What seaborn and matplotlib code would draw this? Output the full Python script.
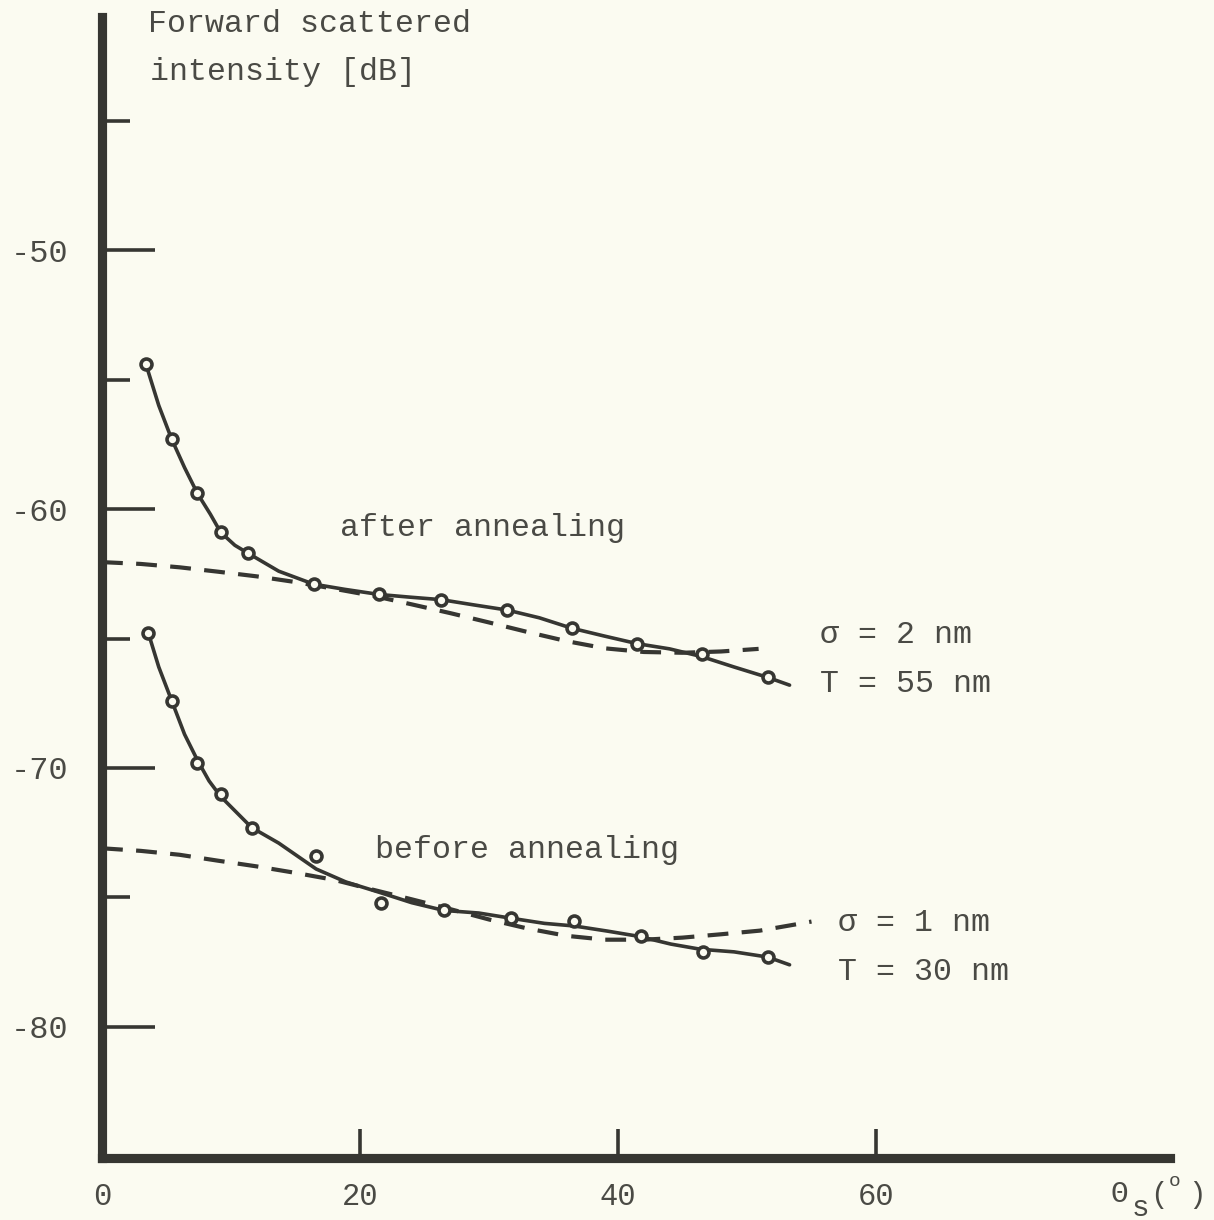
import numpy as np
import pandas as pd
import matplotlib
matplotlib.use("Agg")
import matplotlib.pyplot as plt
import seaborn as sns

# ---------------- data ----------------
after_theta = [3.4, 5.4, 7.4, 9.2, 11.3, 16.4, 21.5, 26.3, 31.4, 36.4, 41.5, 46.5, 51.6]
after_db = [-54.4, -57.3, -59.4, -60.9, -61.7, -62.9, -63.3, -63.5, -63.9, -64.6, -65.2, -65.6, -66.5]

before_theta = [3.6, 5.4, 7.4, 9.2, 11.6, 16.6, 21.6, 26.5, 31.7, 36.6, 41.8, 46.6, 51.6]
before_db = [-64.8, -67.4, -69.8, -71.0, -72.3, -73.4, -75.2, -75.5, -75.8, -75.9, -76.5, -77.1, -77.3]

after_fit_theta = [3.4, 4.4, 5.4, 6.4, 7.4, 8.4, 9.2, 10.3, 11.3, 13.7, 16.4, 18.8, 21.5,
                   23.8, 26.3, 28.8, 31.4, 33.9, 36.4, 38.9, 41.5, 44.0, 46.5, 49.0, 51.6, 53.3]
after_fit_db = [-54.4, -56.0, -57.3, -58.4, -59.4, -60.2, -60.9, -61.4, -61.7, -62.4, -62.9, -63.1, -63.3,
                -63.4, -63.5, -63.7, -63.9, -64.2, -64.6, -64.9, -65.2, -65.4, -65.7, -66.1, -66.5, -66.8]

before_fit_theta = [3.6, 4.4, 5.4, 6.4, 7.4, 8.3, 9.2, 10.4, 11.6, 13.7, 16.6, 18.9, 21.5,
                    24.0, 26.5, 29.2, 31.7, 34.3, 36.6, 39.2, 41.6, 44.1, 46.4, 49.0, 51.6, 53.3]
before_fit_db = [-64.8, -66.1, -67.4, -68.7, -69.7, -70.5, -71.1, -71.7, -72.3, -72.9, -73.9, -74.4, -74.8,
                 -75.2, -75.5, -75.6, -75.8, -76.0, -76.1, -76.3, -76.5, -76.8, -77.0, -77.1, -77.3, -77.6]

after_theory_theta = [0, 3, 6, 9, 12, 15, 18, 21, 24, 27, 30, 33, 36, 39, 42, 45, 48, 50.9]
after_theory_db = [-62.05, -62.12, -62.25, -62.42, -62.6, -62.82, -63.08, -63.35, -63.68, -64.02,
                   -64.38, -64.75, -65.1, -65.38, -65.52, -65.55, -65.5, -65.4]

before_theory_theta = [0, 3, 6, 9, 12, 15, 18, 21, 24, 27, 30, 33, 36, 39, 42, 45, 48, 51, 54, 55]
before_theory_db = [-73.1, -73.2, -73.35, -73.58, -73.8, -74.05, -74.32, -74.7, -75.07, -75.45,
                    -75.85, -76.2, -76.48, -76.63, -76.63, -76.55, -76.42, -76.28, -76.02, -75.93]

y_major = [-80, -70, -60, -50]
y_major_labels = ["-80", "-70", "-60", "-50"]
y_minor = [-75, -65, -55, -45]
x_major = [0, 20, 40, 60]
x_labels = ["0", "20", "40", "60"]

curve_labels = ["after annealing", "before annealing"]
param_labels = [("\u03c3 = 2 nm", "T = 55 nm"), ("\u03c3 = 1 nm", "T = 30 nm")]
y_title = ["Forward scattered", "intensity [dB]"]

# ---------------- style ----------------
W, H = 1214, 1220
BG = "#fbfbf1"
INK = "#363632"
TXT = "#4a4a45"
MONO = ["Liberation Mono", "DejaVu Sans Mono"]

sns.set_theme(style="white")
plt.rcParams["font.family"] = MONO
plt.rcParams["axes.unicode_minus"] = False

fig = plt.figure(figsize=(W / 100, H / 100), dpi=100, facecolor=BG)
ax = fig.add_axes([102 / W, 1 - 1158 / H, (1170 - 102) / W, (1158 - 17) / H])
ax.set_facecolor(BG)
ax.set_xlim(0, (1170 - 102) / 12.9)
ax.set_ylim(-85.06, -41.0)


def fpos(px, py):
    return px / W, 1 - py / H


# theory (dashed)
for th, db in [(after_theory_theta, after_theory_db), (before_theory_theta, before_theory_db)]:
    sns.lineplot(x=th, y=db, ax=ax, color=INK, lw=3.0, sort=False, estimator=None)
    ln = ax.lines[-1]
    ln.set_dashes((5.0, 3.2))
    ln.set_clip_on(False)

# fitted (solid)
for th, db in [(after_fit_theta, after_fit_db), (before_fit_theta, before_fit_db)]:
    sns.lineplot(x=th, y=db, ax=ax, color=INK, lw=2.6, sort=False, estimator=None)

# measured points
for th, db in [(after_theta, after_db), (before_theta, before_db)]:
    sns.scatterplot(x=th, y=db, ax=ax, marker="o", s=62, color=BG,
                    edgecolor=INK, linewidth=2.6, zorder=5)

# spines
for s in ["top", "right"]:
    ax.spines[s].set_visible(False)
for s in ["left", "bottom"]:
    ax.spines[s].set_linewidth(6.6)
    ax.spines[s].set_color(INK)
    ax.spines[s].set_capstyle("projecting")

# ticks
ax.set_yticks(y_major)
ax.set_yticklabels(y_major_labels)
ax.set_yticks(y_minor, minor=True)
ax.set_xticks(x_major)
ax.set_xticklabels(x_labels)
ax.tick_params(axis="y", which="both", left=True, right=False)
ax.tick_params(axis="x", which="both", bottom=True, top=False)
ax.tick_params(axis="y", which="major", direction="in", length=38, width=2.6,
               color=INK, pad=24, labelsize=23, labelcolor=TXT)
ax.tick_params(axis="y", which="minor", direction="in", length=20, width=2.6, color=INK)
ax.tick_params(axis="x", which="major", direction="in", length=21, width=2.6,
               color=INK, pad=17, labelsize=22, labelcolor=TXT)
ax.tick_params(axis="x", which="minor", bottom=False)
ax.xaxis.get_major_ticks()[0].tick1line.set_visible(False)
ax.set_xlabel("")
ax.set_ylabel("")

# texts
fs = 22.8
fig.text(*fpos(148, 32), y_title[0], fontsize=fs, color=TXT, va="baseline", ha="left")
fig.text(*fpos(150, 80), y_title[1], fontsize=fs, color=TXT, va="baseline", ha="left")
fig.text(*fpos(340, 536), curve_labels[0], fontsize=fs, color=TXT, va="baseline", ha="left")
fig.text(*fpos(375, 858), curve_labels[1], fontsize=fs, color=TXT, va="baseline", ha="left")
fig.text(*fpos(820, 643), param_labels[0][0], fontsize=fs, color=TXT, va="baseline", ha="left")
fig.text(*fpos(820, 692), param_labels[0][1], fontsize=fs, color=TXT, va="baseline", ha="left")
fig.text(*fpos(838, 931), param_labels[1][0], fontsize=fs, color=TXT, va="baseline", ha="left")
fig.text(*fpos(838, 980), param_labels[1][1], fontsize=fs, color=TXT, va="baseline", ha="left")

# axis label Θs(°)
fig.text(*fpos(1111, 1202), "\u0398", fontsize=21, color=TXT, va="baseline", ha="left")
fig.text(*fpos(1132, 1216), "s", fontsize=21, color=TXT, va="baseline", ha="left")
fig.text(*fpos(1150, 1203), "(", fontsize=21, color=TXT, va="baseline", ha="left")
fig.text(*fpos(1169, 1186), "o", fontsize=14, color=TXT, va="baseline", ha="left")
fig.text(*fpos(1188, 1203), ")", fontsize=21, color=TXT, va="baseline", ha="left")

fig.savefig("out.png", dpi=100, facecolor=BG)
